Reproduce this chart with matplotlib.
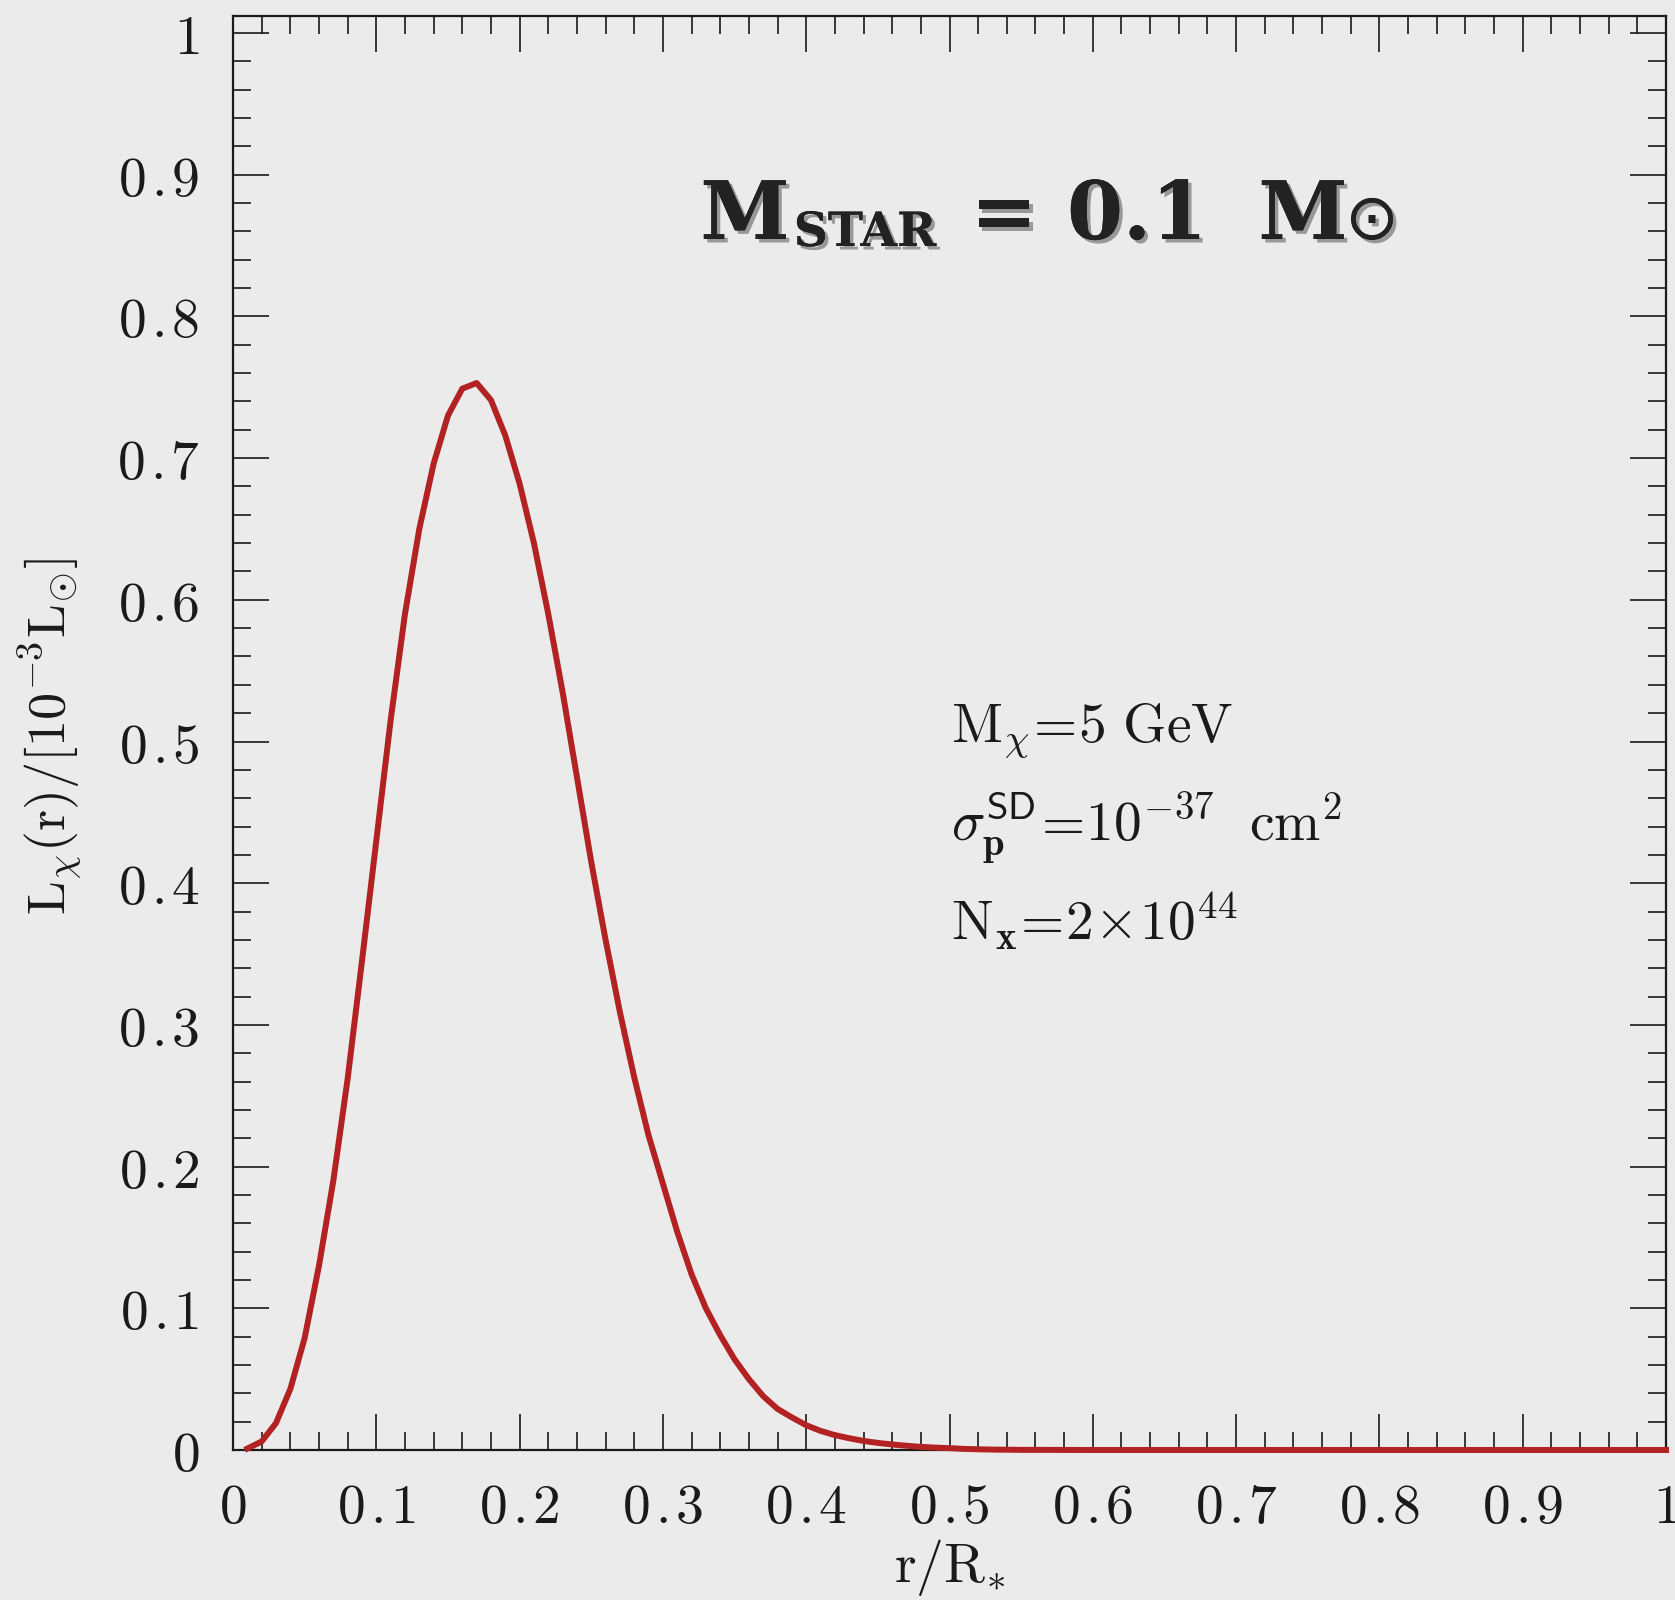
import matplotlib
matplotlib.use("Agg")
import matplotlib.pyplot as plt
import matplotlib.patheffects as pe
from matplotlib.ticker import MultipleLocator

# ---------------- data ----------------
r_over_R = [0.01, 0.02, 0.03, 0.04, 0.05, 0.06, 0.07, 0.08, 0.09, 0.10,
            0.11, 0.12, 0.13, 0.14, 0.15, 0.16, 0.17, 0.18, 0.19, 0.20,
            0.21, 0.22, 0.23, 0.24, 0.25, 0.26, 0.27, 0.28, 0.29, 0.30,
            0.31, 0.32, 0.33, 0.34, 0.35, 0.36, 0.37, 0.38, 0.39, 0.40,
            0.41, 0.42, 0.43, 0.44, 0.45, 0.46, 0.47, 0.48, 0.49, 0.50,
            0.51, 0.52, 0.53, 0.54, 0.55, 0.60, 0.70, 0.80, 0.90, 1.00]
L_chi = [0.001, 0.006, 0.019, 0.043, 0.079, 0.130, 0.190, 0.262, 0.345, 0.430,
         0.515, 0.590, 0.650, 0.696, 0.730, 0.749, 0.753, 0.741, 0.716, 0.682,
         0.640, 0.590, 0.535, 0.475, 0.415, 0.360, 0.309, 0.263, 0.222, 0.188,
         0.154, 0.124, 0.100, 0.081, 0.064, 0.050, 0.038, 0.029, 0.023, 0.0175,
         0.0135, 0.0105, 0.0083, 0.0064, 0.0050, 0.0039, 0.0030, 0.0022, 0.0017, 0.0013,
         0.0008, 0.0005, 0.0003, 0.0002, 0.0001, 0.0, 0.0, 0.0, 0.0, 0.0]

xticks = [0, 0.1, 0.2, 0.3, 0.4, 0.5, 0.6, 0.7, 0.8, 0.9, 1.0]
xticklabels = ["0", "0.1", "0.2", "0.3", "0.4", "0.5", "0.6", "0.7", "0.8", "0.9", "1"]
yticks = [0, 0.1, 0.2, 0.3, 0.4, 0.5, 0.6, 0.7, 0.8, 0.9, 1.0]
yticklabels = ["0", "0.1", "0.2", "0.3", "0.4", "0.5", "0.6", "0.7", "0.8", "0.9", "1"]

# ---------------- figure ----------------
W, H = 1675, 1600
BG = "#EBEBEB"
INK = "#1a1a1a"
RED = "#B22222"

fig = plt.figure(figsize=(W / 100, H / 100), dpi=100, facecolor=BG)
ax_l, ax_r, ax_t, ax_b = 233, 1666, 16, 1450
ax = fig.add_axes([ax_l / W, 1 - ax_b / H, (ax_r - ax_l) / W, (ax_b - ax_t) / H])
ax.set_facecolor(BG)

ax.plot(r_over_R, L_chi, color=RED, lw=4.3, zorder=5, clip_on=False)

ax.set_xlim(0, 1)
ax.set_ylim(0, 1.012)


def spaced(lbl):
    # slightly opened-up decimal point, SuperMongo style
    return "$" + lbl.replace(".", r"\hspace{0.11}.\hspace{-0.09}") + "$"


ax.set_xticks(xticks)
ax.set_xticklabels([spaced(t) for t in xticklabels], fontsize=40, color=INK,
                   math_fontfamily="cm")
ax.set_yticks(yticks)
ax.set_yticklabels([spaced(t) for t in yticklabels], fontsize=40, color=INK,
                   math_fontfamily="cm")
ax.xaxis.set_minor_locator(MultipleLocator(0.02))
ax.yaxis.set_minor_locator(MultipleLocator(0.02))
ax.tick_params(which="both", direction="in", top=True, right=True, color=INK)
ax.tick_params(which="major", length=26, width=1.2)
ax.tick_params(which="minor", length=13, width=1.2)
ax.tick_params(axis="x", which="major", pad=22)
ax.tick_params(axis="y", which="major", pad=24)
for s in ax.spines.values():
    s.set_linewidth(1.6)
    s.set_color(INK)


def fx(px):
    return px / W


def fy(py):
    return 1 - py / H


# axis labels
fig.text(fx(50), fy(736), r"$\mathrm{L}_{\chi}\mathrm{(r)/[10^{-3}L_{\odot}]}$",
         rotation=90, ha="center", va="center", fontsize=39, color=INK,
         math_fontfamily="cm")
fig.text(fx(950), fy(1567), r"$\mathrm{r/R}_{*}$", ha="center", va="center",
         fontsize=40, color=INK, math_fontfamily="cm")

# parameter annotations
fig.text(fx(951), fy(742), r"$\mathrm{M}_{\chi}\!=\!5\ \mathrm{GeV}$",
         ha="left", va="baseline", fontsize=40, color=INK, math_fontfamily="cm")
fig.text(fx(951), fy(842), r"$\sigma_{\mathbf{p}}^{\mathsf{SD}}\!=\!10^{-37}\ \ \mathrm{cm}^{2}$",
         ha="left", va="baseline", fontsize=40, color=INK, math_fontfamily="cm")
fig.text(fx(951), fy(940), r"$\mathrm{N}_{\mathbf{x}}\!=\!2\!\times\!10^{44}$",
         ha="left", va="baseline", fontsize=40, color=INK, math_fontfamily="cm")

# title with drop shadow
shadow = [pe.withSimplePatchShadow(offset=(2.5, -2.5), shadow_rgbFace="#333333", alpha=0.45), pe.Normal()]
tkw = dict(fontfamily="DejaVu Serif", fontweight="bold", color="#222222",
           path_effects=shadow)
fig.text(fx(745), fy(239), "M", ha="center", va="baseline", fontsize=58, **tkw)
fig.text(fx(865), fy(246), "STAR", ha="center", va="baseline", fontsize=34, **tkw)
fig.text(fx(1004), fy(239), "=", ha="center", va="baseline", fontsize=58, **tkw)
fig.text(fx(1137), fy(239), "0.1", ha="center", va="baseline", fontsize=58, **tkw)
fig.text(fx(1303), fy(239), "M", ha="center", va="baseline", fontsize=58, **tkw)
fig.text(fx(1372), fy(221), "\u2299", ha="center", va="center", fontsize=46,
         fontfamily="DejaVu Sans", color="#222222", path_effects=shadow)

fig.savefig("out.png", dpi=100, facecolor=BG)
